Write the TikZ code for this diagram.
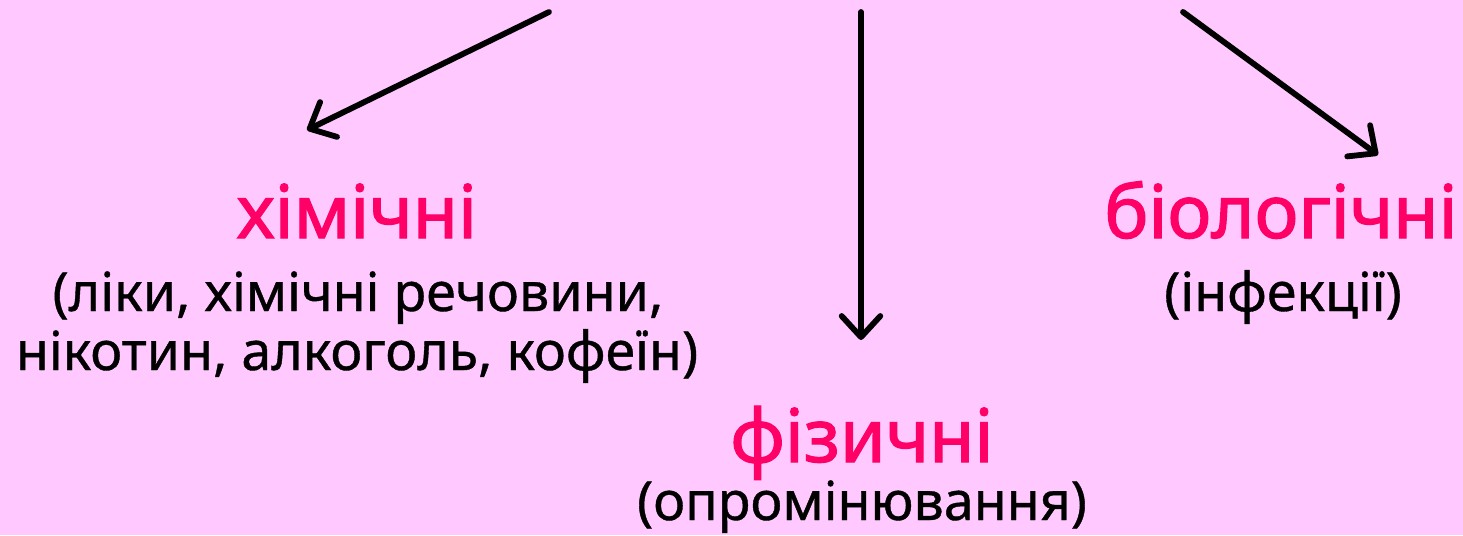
\documentclass[tikz,border=0pt]{standalone}
\usepackage{fontspec}
\setmainfont{Noto Sans}
\newfontfamily\headfont[FakeBold=1.6]{Noto Sans}
\newfontfamily\subfont[FakeBold=0.7]{Noto Sans}
\usetikzlibrary{arrows.meta}
\definecolor{bgpink}{HTML}{FFC8FF}
\definecolor{headpink}{HTML}{FF0066}
\tikzset{
  conn/.style={line width=3.3pt, line cap=round, -{Straight Barb[length=12pt,width=22pt,line width=3.3pt,line cap=round,line join=round]}},
  head/.style={anchor=base, text=headpink, font=\headfont\fontsize{42}{50}\selectfont, inner sep=0pt},
  sub/.style={anchor=base, text=black, font=\subfont\fontsize{30.6}{36}\selectfont, inner sep=0pt},
}
\begin{document}
\begin{tikzpicture}[x=0.02cm,y=-0.02cm]
\fill[bgpink] (0,0) rectangle (1463,535);
\useasboundingbox (0,0) rectangle (1463,535);
\coordinate (s1) at (549,12);
\coordinate (e1) at (307,130);
\coordinate (s2) at (861,12);
\coordinate (e2) at (861,340);
\coordinate (s3) at (1183,12);
\coordinate (e3) at (1378,155);
\draw[conn] (s1) -- (e1);
\draw[conn] (s2) -- (e2);
\draw[conn] (s3) -- (e3);
\node[head] (chem) at (357,238) {хімічні};
\node[sub] (chem1) at (358,311) {(ліки, хімічні речовини,};
\node[sub] (chem2) at (357,370) {нікотин, алкоголь, кофеїн)};
\node[head] (bio) at (1281,238) {біологічні};
\node[sub] (bio1) at (1283,311) {(інфекції)};
\node[head] (phys) at (862,462) {фізичні};
\node[sub] (phys1) at (862,520) {(опромінювання)};
\end{tikzpicture}
\end{document}
